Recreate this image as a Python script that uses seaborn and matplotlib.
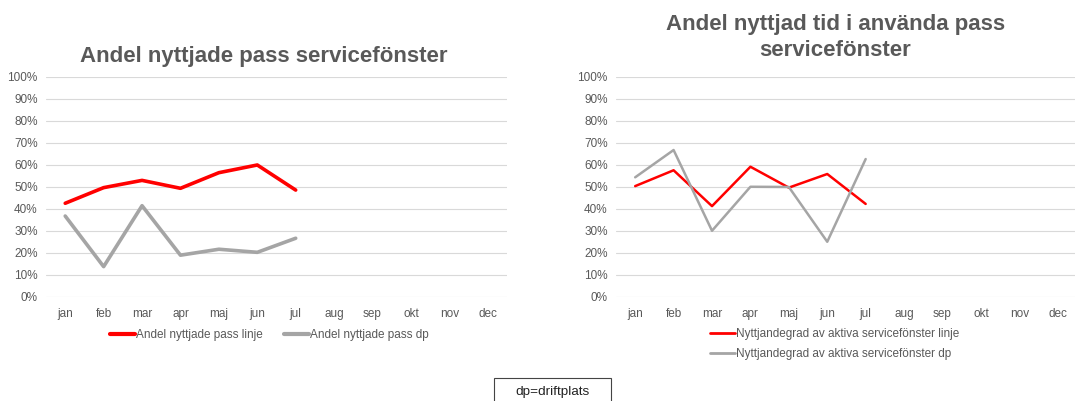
import numpy as np
import pandas as pd
import seaborn as sns
import matplotlib.pyplot as plt
from matplotlib.patches import Rectangle
from matplotlib.ticker import PercentFormatter

months = ['jan', 'feb', 'mar', 'apr', 'maj', 'jun', 'jul', 'aug', 'sep', 'okt', 'nov', 'dec']
used_months = months[:7]

# andel nyttjade pass
pass_linje = [0.426, 0.497, 0.530, 0.494, 0.565, 0.600, 0.486]
pass_dp = [0.368, 0.138, 0.415, 0.190, 0.217, 0.203, 0.267]

# nyttjandegrad av aktiva servicefönster
tid_linje = [0.504, 0.576, 0.413, 0.592, 0.497, 0.559, 0.423]
tid_dp = [0.544, 0.668, 0.301, 0.501, 0.500, 0.251, 0.627]

red = '#ff0000'
grey = '#a5a5a5'
txt = '#595959'

sns.set_style('white')
plt.rcParams['font.family'] = ['Liberation Sans', 'DejaVu Sans']

fig = plt.figure(figsize=(10.75, 4.01), dpi=100)
ax1 = fig.add_axes([0.0428, 0.2594, 0.4288, 0.5486])
ax2 = fig.add_axes([0.573, 0.2594, 0.4288, 0.5486])


def make_df(a, b, name_a, name_b):
    x = [months.index(m) for m in used_months]
    return pd.DataFrame({'x': x * 2, 'v': a + b,
                         'serie': [name_a] * len(a) + [name_b] * len(b)})


df1 = make_df(pass_linje, pass_dp, 'Andel nyttjade pass linje', 'Andel nyttjade pass dp')
df2 = make_df(tid_linje, tid_dp, 'Nyttjandegrad av aktiva servicefönster linje',
              'Nyttjandegrad av aktiva servicefönster dp')

sns.lineplot(data=df1, x='x', y='v', hue='serie', palette=[red, grey], ax=ax1,
             linewidth=2.6, legend=False)
sns.lineplot(data=df2, x='x', y='v', hue='serie', palette=[red, grey], ax=ax2,
             linewidth=1.8, legend=False)

for ax in (ax1, ax2):
    ax.set_xlim(-0.5, 11.5)
    ax.set_ylim(0, 1)
    ax.set_xticks(range(len(months)))
    ax.set_xticklabels(months)
    ax.set_yticks(np.arange(0, 1.01, 0.1))
    ax.yaxis.set_major_formatter(PercentFormatter(1.0, decimals=0))
    ax.grid(axis='y', color='#d9d9d9', linewidth=0.8)
    ax.set_axisbelow(True)
    ax.tick_params(length=0, labelsize=8.5, colors=txt)
    ax.tick_params(axis='x', pad=8)
    ax.tick_params(axis='y', pad=6)
    for s in ax.spines.values():
        s.set_visible(False)
    ax.set_xlabel('')
    ax.set_ylabel('')

fig.text(0.245, 0.86, 'Andel nyttjade pass servicefönster', ha='center', va='center',
         fontsize=16, fontweight='bold', color=txt)
fig.text(0.777, 0.906, 'Andel nyttjad tid i använda pass\nservicefönster', ha='center',
         va='center', fontsize=16, fontweight='bold', color=txt, linespacing=1.3)

h1 = [plt.Line2D([], [], color=red, linewidth=3), plt.Line2D([], [], color=grey, linewidth=3)]
fig.legend(h1, df1['serie'].unique(), loc='center', bbox_to_anchor=(0.251, 0.165), ncol=2,
           frameon=False, fontsize=8.5, handlelength=2.1, handletextpad=0.1, columnspacing=1.8,
           labelcolor=txt)
h2 = [plt.Line2D([], [], color=red, linewidth=2), plt.Line2D([], [], color=grey, linewidth=2)]
fig.legend(h2, df2['serie'].unique(), loc='center left', bbox_to_anchor=(0.651, 0.142), ncol=1,
           frameon=False, fontsize=8.5, handlelength=2.1, handletextpad=0.1, labelspacing=0.7,
           labelcolor=txt)

# note box, cut off by the bottom edge as in the original
fig.patches.append(Rectangle((0.4595, -0.02), 0.1088, 0.0774, transform=fig.transFigure,
                             facecolor='white', edgecolor='#444444', linewidth=0.8))
fig.text(0.5139, 0.0224, 'dp=driftplats', ha='center', va='center', fontsize=9.7, color='#222222')

fig.savefig('out.png', dpi=100)
